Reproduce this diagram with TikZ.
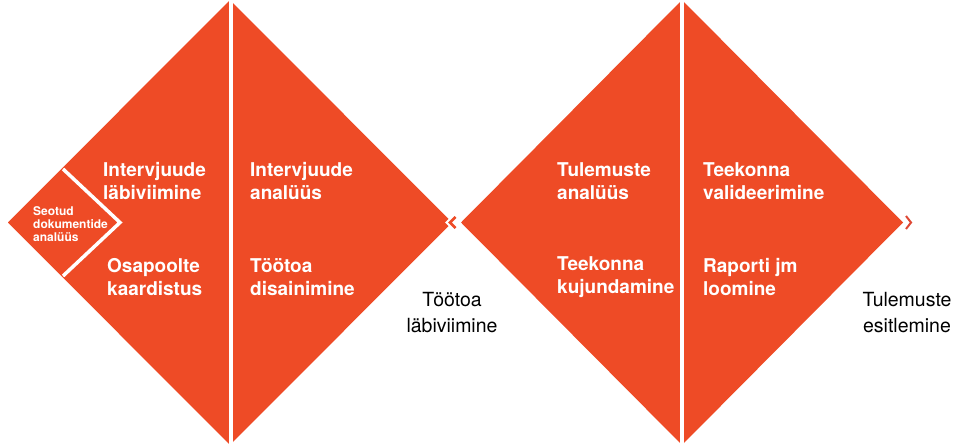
\documentclass[tikz,border=0pt]{standalone}
\usepackage{fontspec}
\setmainfont{TeX Gyre Heros}
\definecolor{diamondred}{RGB}{238,75,38}
\definecolor{tipred}{RGB}{222,72,52}

\begin{document}
\begin{tikzpicture}[x=1pt, y=1pt,
	phase/.style={text=white, font=\bfseries\fontsize{19}{23}\selectfont, anchor=west, align=left, inner sep=0pt},
	subphase/.style={text=white, font=\bfseries\fontsize{12}{13}\selectfont, anchor=west, align=left, inner sep=0pt},
	outcome/.style={text=black, font=\fontsize{19.5}{26}\selectfont, align=center, inner sep=0pt},
	divider/.style={white, line width=4pt},
	chevron/.style={line width=2.5pt, line join=miter}]
	\useasboundingbox (0,0) rectangle (955,445);

	%diamonds
	\fill [diamondred] (230,445) -- (452,222.5) -- (230,0) -- (8,222.5) -- cycle;
	\fill [diamondred] (682,445) -- (903,222.5) -- (682,0) -- (461,222.5) -- cycle;

	%dividers
	\foreach \x in {230.5, 681.5}
		\draw [divider] (\x,450) -- (\x,-5);
	\draw [white, line width=3.5pt] (63,169) -- (120,222.5) -- (63,276);

	%chevrons
	\fill [white] (445,222.5) -- (457,234.5) -- (457,210.5) -- cycle;
	\draw [chevron, diamondred] (455.5,228) -- (450,222.5) -- (455.5,217);
	\draw [chevron, tipred, line width=2pt] (906,229) -- (911,222.5) -- (906,216);

	%labels
	\node [subphase] (seotud) at (33,221) {Seotud\\dokumentide\\analüüs};
	\node [phase] (intlab) at (103,264) {Intervjuude\\läbiviimine};
	\node [phase] (osap) at (107,168) {Osapoolte\\kaardistus};
	\node [phase] (intan) at (250,264) {Intervjuude\\analüüs};
	\node [phase] (toodis) at (250,168) {Töötoa\\disainimine};
	\node [phase] (tulan) at (557,264) {Tulemuste\\analüüs};
	\node [phase] (teekuj) at (557,168) {Teekonna\\kujundamine};
	\node [phase] (teeval) at (703,264) {Teekonna\\valideerimine};
	\node [phase] (raport) at (703,168) {Raporti jm\\loomine};
	\node [outcome] (toolab) at (452,132) {Töötoa\\läbiviimine};
	\node [outcome] (tulesit) at (907,132) {Tulemuste\\esitlemine};

\end{tikzpicture}
\end{document}
